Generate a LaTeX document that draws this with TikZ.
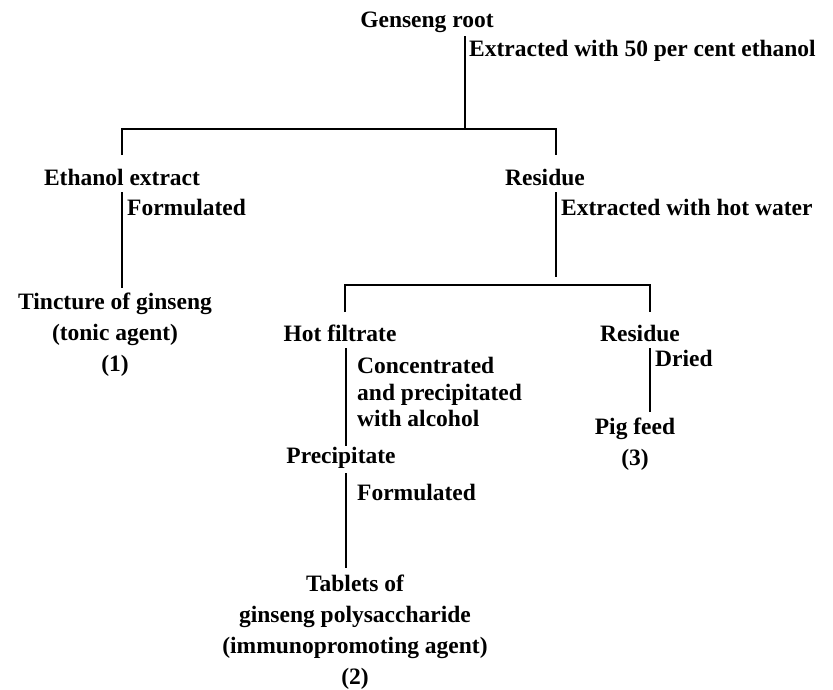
\documentclass[tikz,border=0pt]{standalone}
\usepackage{fontspec}
\setmainfont{Liberation Serif}
\begin{document}
\begin{tikzpicture}[x=1pt,y=-1pt,
  lbl/.style={inner sep=0pt,font=\fontsize{23.5}{31}\selectfont\bfseries},
  stage/.style={lbl,align=center},
  note/.style={inner sep=0pt,font=\fontsize{23.5}{26.5}\selectfont\bfseries,align=left,anchor=west},
  flow/.style={line width=1.8pt,line cap=butt}]
\useasboundingbox (0,0) rectangle (833,689);

% raw material and first extraction
\node[stage] (root) at (427,22) {Genseng root};
\coordinate (rootbar) at (465,36);
\coordinate (split1) at (465,129);
\node[note] (ext1) at (469,51) {Extracted with 50 per cent ethanol};
\draw[flow] (rootbar) -- (split1);

% first split
\coordinate (b1l) at (122,129);
\coordinate (b1r) at (556,129);
\coordinate (b1ld) at (122,155);
\coordinate (b1rd) at (556,155);
\draw[flow] (b1ld) -- (b1l) -- (b1r) -- (b1rd);

% ethanol branch
\node[stage] (eth) at (122,177) {Ethanol extract};
\coordinate (ethtop) at (122,192);
\coordinate (ethbot) at (122,288);
\draw[flow] (ethtop) -- (ethbot);
\node[note] (form1) at (127,207) {Formulated};
\node[stage] (tinct) at (115,335) {Tincture of ginseng\\(tonic agent)\\(1)};

% residue branch
\node[stage] (res1) at (545,177) {Residue};
\coordinate (res1top) at (556,192);
\coordinate (res1bot) at (556,277);
\draw[flow] (res1top) -- (res1bot);
\node[note] (ext2) at (561,207) {Extracted with hot water};

% second split
\coordinate (b2l) at (345,285);
\coordinate (b2r) at (650,285);
\coordinate (b2ld) at (345,312);
\coordinate (b2rd) at (650,312);
\draw[flow] (b2ld) -- (b2l) -- (b2r) -- (b2rd);

% hot filtrate branch
\node[stage] (hot) at (340,333) {Hot filtrate};
\coordinate (hottop) at (346,348);
\coordinate (hotbot) at (346,446);
\draw[flow] (hottop) -- (hotbot);
\node[note] (conc) at (357,392) {Concentrated\\and precipitated\\with alcohol};
\node[stage] (prec) at (341,458) {Precipitate};
\coordinate (prectop) at (346,473);
\coordinate (precbot) at (346,568);
\draw[flow] (prectop) -- (precbot);
\node[note] (form2) at (357,492) {Formulated};
\node[stage] (tab) at (355,632) {Tablets of\\ginseng polysaccharide\\(immunopromoting agent)\\(2)};

% residue to feed
\node[stage] (res2) at (640,333) {Residue};
\coordinate (res2top) at (650,348);
\coordinate (res2bot) at (650,412);
\draw[flow] (res2top) -- (res2bot);
\node[note] (dried) at (655,358) {Dried};
\node[stage] (pig) at (635,444) {Pig feed\\(3)};
\end{tikzpicture}
\end{document}
